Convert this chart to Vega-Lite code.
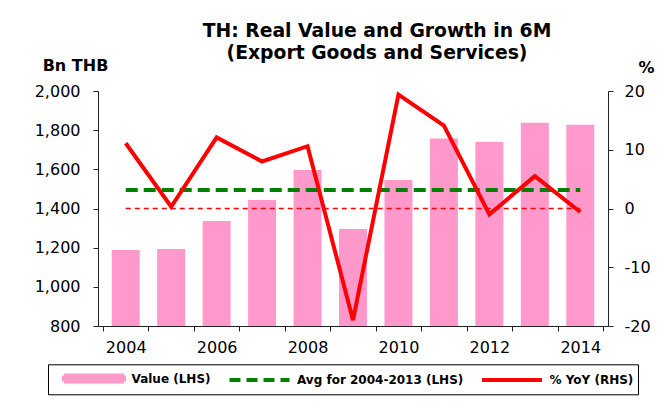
{
  "$schema": "https://vega.github.io/schema/vega-lite/v6.json",
  "width": 510,
  "height": 235,
  "autosize": "none",
  "padding": {"left": 98, "top": 91, "right": 57, "bottom": 77},
  "background": "white",
  "config": {
    "font": "DejaVu Sans",
    "view": {"stroke": null},
    "axis": {"grid": false, "domainColor": "#222", "tickColor": "#222", "labelColor": "#000", "labelFontSize": 16, "titleColor": "#000"}
  },
  "title": {
    "text": ["TH: Real Value and Growth in 6M", "(Export Goods and Services)"],
    "font": "DejaVu Sans",
    "fontSize": 18.8,
    "fontWeight": "bold",
    "color": "#000",
    "anchor": "middle",
    "frame": "group",
    "dx": 24,
    "offset": -6,
    "lineHeight": 22
  },
  "data": {
    "values": [
      {"year": 2004, "value": 1188, "yoy": 11.1, "avg": 1494, "base": 0},
      {"year": 2005, "value": 1193, "yoy": 0.3, "avg": 1494, "base": 0},
      {"year": 2006, "value": 1336, "yoy": 12.1, "avg": 1494, "base": 0},
      {"year": 2007, "value": 1443, "yoy": 8.0, "avg": 1494, "base": 0},
      {"year": 2008, "value": 1597, "yoy": 10.6, "avg": 1494, "base": 0},
      {"year": 2009, "value": 1295, "yoy": -19.0, "avg": 1494, "base": 0},
      {"year": 2010, "value": 1545, "yoy": 19.4, "avg": 1494, "base": 0},
      {"year": 2011, "value": 1758, "yoy": 14.1, "avg": 1494, "base": 0},
      {"year": 2012, "value": 1741, "yoy": -1.0, "avg": 1494, "base": 0},
      {"year": 2013, "value": 1838, "yoy": 5.5, "avg": 1494, "base": 0},
      {"year": 2014, "value": 1828, "yoy": -0.6, "avg": 1494, "base": 0}
    ]
  },
  "layer": [
    {
      "mark": {"type": "bar", "size": 28, "clip": true},
      "encoding": {
        "x": {
          "field": "year", "type": "quantitative",
          "scale": {"domain": [2003.5, 2014.5], "nice": false, "zero": false},
          "axis": {"orient": "bottom", "title": null, "labels": false, "tickSize": 5,
                   "values": [2003.5, 2004.5, 2005.5, 2006.5, 2007.5, 2008.5, 2009.5, 2010.5, 2011.5, 2012.5, 2013.5, 2014.5]}
        },
        "y": {
          "field": "value", "type": "quantitative",
          "scale": {"domain": [800, 2000], "nice": false, "zero": false},
          "axis": {"orient": "left", "values": [800, 1000, 1200, 1400, 1600, 1800, 2000], "format": ",.0f", "tickSize": 5, "labelPadding": 13,
                   "title": "Bn THB", "titleAngle": 0, "titleFontSize": 16, "titleFontWeight": "bold", "titleAlign": "center", "titleBaseline": "middle", "titleX": -23, "titleY": -26}
        },
        "color": {
          "datum": "Value (LHS)", "type": "nominal",
          "scale": {"domain": ["Value (LHS)", "Avg for 2004-2013 (LHS)", "% YoY (RHS)"], "range": ["#FF99CC", "#008000", "#FF0000"]},
          "legend": {
            "title": null, "orient": "none", "legendX": -50, "legendY": 273.3, "direction": "horizontal", "columns": 3,
            "strokeColor": "#000", "padding": 4.5, "columnPadding": 6.5, "symbolType": "M-4,0H4", "symbolSize": 225, "symbolStrokeWidth": 4, "symbolOffset": 32,
            "labelFontSize": 12, "labelFontWeight": "bold", "labelColor": "#000", "labelLimit": 300, "labelOffset": 28,
            "encode": {
              "symbols": {"update": {
                "shape": {"signal": "datum.value === 'Value (LHS)' ? 'M-4,-0.4H4V0.4H-4Z' : 'M-4,0H4'"},
                "fill": {"signal": "datum.value === 'Value (LHS)' ? '#FF99CC' : 'transparent'"},
                "stroke": {"signal": "datum.value === 'Value (LHS)' ? 'transparent' : scale('color', datum.value)"},
                "strokeDash": {"signal": "datum.value === 'Avg for 2004-2013 (LHS)' ? [11, 6] : [1, 0]"},
                "opacity": {"value": 1}
              }}
            }
          }
        }
      }
    },
    {
      "mark": {"type": "line", "strokeWidth": 4, "strokeDash": [12, 6]},
      "encoding": {
        "x": {
          "field": "year", "type": "quantitative",
          "axis": {"orient": "bottom", "title": null, "ticks": false, "domain": false, "format": "d", "labelPadding": 13, "labelOverlap": false, "labelFlush": false,
                   "values": [2004, 2006, 2008, 2010, 2012, 2014]}
        },
        "y": {"field": "avg", "type": "quantitative", "scale": {"domain": [800, 2000], "nice": false, "zero": false}, "axis": null},
        "color": {"datum": "Avg for 2004-2013 (LHS)", "type": "nominal"}
      }
    },
    {
      "mark": {"type": "line", "strokeWidth": 1.5, "strokeDash": [5, 4], "color": "#FF0000"},
      "encoding": {
        "x": {"field": "year", "type": "quantitative", "axis": null},
        "y": {"field": "base", "type": "quantitative", "scale": {"domain": [-20, 20], "nice": false, "zero": false}, "axis": null}
      }
    },
    {
      "mark": {"type": "line", "strokeWidth": 4, "strokeJoin": "miter"},
      "encoding": {
        "x": {"field": "year", "type": "quantitative", "axis": null},
        "y": {
          "field": "yoy", "type": "quantitative",
          "scale": {"domain": [-20, 20], "nice": false, "zero": false},
          "axis": {"orient": "right", "values": [-20, -10, 0, 10, 20], "tickSize": 5, "labelPadding": 11,
                   "labelExpr": "datum.value < 0 ? '-' + abs(datum.value) : '' + datum.value",
                   "title": "%", "titleAngle": 0, "titleFontSize": 16, "titleFontWeight": "bold", "titleAlign": "center", "titleBaseline": "middle", "titleX": 38, "titleY": -24}
        },
        "color": {"datum": "% YoY (RHS)", "type": "nominal"}
      }
    }
  ],
  "resolve": {"scale": {"y": "independent"}, "axis": {"x": "independent", "y": "independent"}}
}
